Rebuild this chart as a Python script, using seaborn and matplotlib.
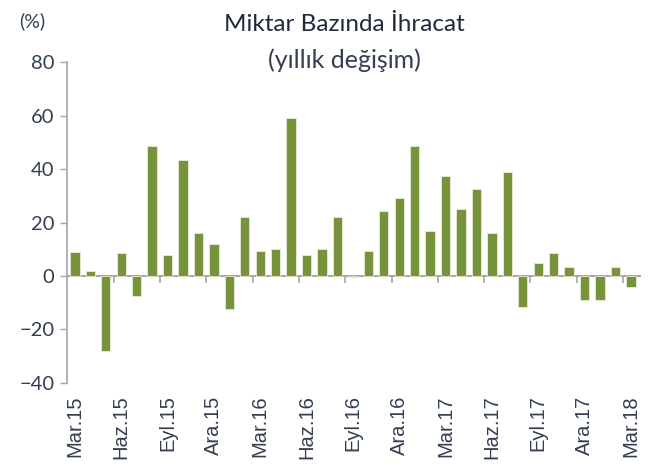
import matplotlib
matplotlib.use("Agg")
import matplotlib.pyplot as plt
import seaborn as sns
import pandas as pd
import numpy as np

# monthly labels, Mar.15 .. Mar.18
months = ["Mar", "Nis", "May", "Haz", "Tem", "Ağu", "Eyl", "Eki", "Kas", "Ara", "Oca", "Şub"]
years = ["15", "16", "17", "18"]
periods = []
for i in range(37):
    m = months[i % 12]
    y = years[(i + 2) // 12]
    periods.append(f"{m}.{y}")

change = [9, 2, -28, 8.5, -7.5, 48.5, 8, 43.5, 16, 12, -12.5, 22,
          9.5, 10, 59, 8, 10, 22, -0.3, 9.5, 24.5, 29, 48.5, 17,
          37.5, 25, 32.5, 16, 39, -11.5, 5, 8.5, 3.5, -9, -9, 3.5, -4]

df = pd.DataFrame({"period": periods, "change": change})

sns.set_theme(style="white")
plt.rcParams["font.family"] = ["Lato", "DejaVu Sans"]

fig = plt.figure(figsize=(6.62, 4.71), dpi=100)
ax = fig.add_axes([0.101, 0.187, 0.866, 0.681])

sns.barplot(data=df, x="period", y="change", color="#77933C", saturation=1,
            width=0.6, edgecolor="#E8EDD8", linewidth=0.6, ax=ax)

ax.set_ylim(-40, 80)
ax.set_xlim(-0.52, 36.6)
ax.set_yticks(range(-40, 81, 20))
ax.set_xlabel("")
ax.set_ylabel("")

for s in ["top", "right", "bottom"]:
    ax.spines[s].set_visible(False)
ax.spines["left"].set_color("#A6A6A6")
ax.spines["left"].set_linewidth(1.2)

ax.tick_params(axis="y", left=True, length=5, width=1, color="#A6A6A6",
               labelsize=14.5, labelcolor="#333F50", pad=4)

ticks = list(range(0, 37, 3))
ax.set_xticks(ticks)
ax.set_xticklabels([periods[t] for t in ticks], rotation=90,
                   fontsize=14.5, color="#333F50", family=["Liberation Sans", "DejaVu Sans"])
ax.tick_params(axis="x", bottom=True, length=0, pad=9)

# zero line with boundary ticks
sec = ax.secondary_xaxis(40 / 120)
sec.spines["bottom"].set_color("#A6A6A6")
sec.spines["bottom"].set_linewidth(1.4)
sec.set_xticks([t + 2.5 for t in ticks[:-1]])
sec.tick_params(axis="x", length=5, width=1.2, color="#A6A6A6", labelbottom=False)

fig.text(0.52, 0.949, "Miktar Bazında İhracat", ha="center", va="center",
         fontsize=17.5, color="#1F2A3A")
fig.text(0.52, 0.872, "(yıllık değişim)", ha="center", va="center",
         fontsize=18, color="#333F50")
fig.text(0.048, 0.955, "(%)", ha="center", va="center", fontsize=14, color="#333F50")

fig.savefig("out.png", dpi=100)
